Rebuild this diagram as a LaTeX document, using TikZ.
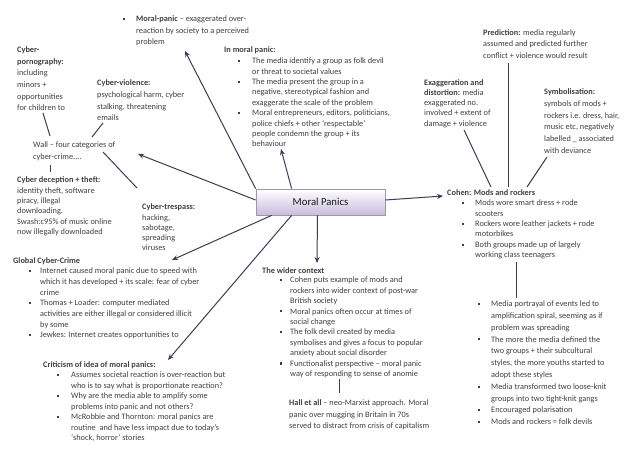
\documentclass[tikz,border=0pt]{standalone}
\usepackage{fontspec}
\setmainfont{Carlito}
\usetikzlibrary{arrows.meta,shadows}
\newlength\bulw
\definecolor{txtc}{HTML}{404040}
\definecolor{linec}{HTML}{3C3C58}
\definecolor{boxb}{HTML}{C6BDDC}
\definecolor{boxd}{HTML}{9A96AC}
\newcommand\bu{\makebox[\bulw][l]{\hspace{1pt}\rule[1.7pt]{2.1pt}{2.1pt}}}
\newcommand\txtblk[5]{\node[blk] (#1) at (#2,#3-0.7*#4) {\fontsize{8.3}{#4}\selectfont\begin{tabular}{@{}l@{}}#5\end{tabular}};}
\newcommand\bullist[6]{\node[blk] (#1) at (#2,#3-0.7*#4) {\fontsize{8.3}{#4}\selectfont\setlength\bulw{#5pt}\begin{tabular}{@{}l@{}l@{}}#6\end{tabular}};}
\begin{document}
\begin{tikzpicture}[x=1pt,y=-1pt,
  blk/.style={anchor=north west,inner sep=0pt,text=txtc},
  conn/.style={draw=linec,line width=1pt},
  arr/.style={conn,-{Stealth[length=6pt,width=5pt]}},
  mainbox/.style={draw=boxd,line width=0.8pt,top color=white,bottom color=boxb,
    minimum width=129pt,minimum height=26pt,inner sep=0pt,
    drop shadow={opacity=0.2,shadow xshift=1pt,shadow yshift=-1pt},
    font=\fontsize{10.7}{12}\selectfont,text=black!90}]
\fill[white] (0,0) rectangle (638,452);
\useasboundingbox (0,0) rectangle (638,452);

% central node
\node[mainbox] (mp) at (320.5,202) {Moral Panics};

% left / top blocks
\bullist{mpdef}{122}{21.5}{11.5}{14}{\bu&\textbf{Moral-panic} – exaggerated over-\\&reaction by society to a perceived\\&problem}
\txtblk{porn}{17}{52.5}{11.6}{\textbf{Cyber-}\\\textbf{pornography:}\\including\\minors +\\opportunities\\for children to}
\txtblk{viol}{97}{85.5}{11.7}{\textbf{Cyber-violence:}\\psychological harm, cyber\\stalking, threatening\\emails}
\txtblk{wall}{33}{147.5}{11.3}{Wall – four categories of\\cyber-crime....}
\txtblk{decep}{17}{182.5}{10.4}{\textbf{Cyber deception + theft:}\\identity theft, software\\piracy, illegal\\downloading.\\Swash:c95\% of music online\\now illegally downloaded}
\txtblk{tresp}{142}{209.5}{10.3}{\textbf{Cyber-trespass:}\\hacking,\\sabotage,\\spreading\\viruses}

% in moral panic
\txtblk{imph}{224}{52.5}{11}{\textbf{In moral panic:}}
\bullist{imp}{237}{63.5}{10.4}{15}{\bu&The media identify a group as folk devil\\&or threat to societal values\\\bu&The media present the group in a\\&negative, stereotypical fashion and\\&exaggerate the scale of the problem\\\bu&Moral entrepreneurs, editors, politicians,\\&police chiefs + other ‘respectable’\\&people condemn the group + its\\&behaviour}

% right blocks
\txtblk{pred}{483}{35.5}{11.3}{\textbf{Prediction:} media regularly\\assumed and predicted further\\conflict + violence would result}
\txtblk{exag}{424}{85}{10.2}{\textbf{Exaggeration and}\\\textbf{distortion:} media\\exaggerated no.\\involved + extent of\\damage + violence}
\txtblk{symb}{544}{94}{11.9}{\textbf{Symbolisation:}\\symbols of mods +\\rockers i.e. dress, hair,\\music etc, negatively\\labelled \_ associated\\with deviance}
\txtblk{cohh}{447}{195.5}{11}{\textbf{Cohen: Mods and rockers}}
\bullist{coh}{461}{205.5}{10.4}{14}{\bu&Mods wore smart dress + rode\\&scooters\\\bu&Rockers wore leather jackets + rode\\&motorbikes\\\bu&Both groups made up of largely\\&working class teenagers}
\bullist{ampl}{477}{306.5}{11.8}{14}{\bu&Media portrayal of events led to\\&amplification spiral, seeming as if\\&problem was spreading\\\bu&The more the media defined the\\&two groups + their subcultural\\&styles, the more youths started to\\&adopt these styles\\\bu&Media transformed two loose-knit\\&groups into two tight-knit gangs\\\bu&Encouraged polarisation\\\bu&Mods and rockers = folk devils}

% bottom middle
\txtblk{widh}{262}{273.5}{11}{\textbf{The wider context}}
\bullist{wid}{279}{282.5}{10.44}{11}{\bu&Cohen puts example of mods and\\&rockers into wider context of post-war\\&British society\\\bu&Moral panics often occur at times of\\&social change\\\bu&The folk devil created by media\\&symbolises and gives a focus to popular\\&anxiety about social disorder\\\bu&Functionalist perspective – moral panic\\&way of responding to sense of anomie}
\txtblk{hall}{289}{405.5}{11.5}{\textbf{Hall et all} – neo-Marxist approach. Moral\\panic over mugging in Britain in 70s\\served to distract from crisis of capitalism}

% bottom left
\txtblk{globh}{13}{263.5}{11}{\textbf{Global Cyber-Crime}}
\bullist{glob}{28}{273.5}{10.67}{12}{\bu&Internet caused moral panic due to speed with\\&which it has developed + its scale: fear of cyber\\&crime\\\bu&Thomas + Loader: computer mediated\\&activities are either illegal or considered illicit\\&by some\\\bu&Jewkes: Internet creates opportunities to}
\txtblk{crith}{43}{367.5}{11}{\textbf{Criticism of idea of moral panics:}}
\bullist{crit}{56}{377.5}{10.5}{15}{\bu&Assumes societal reaction is over-reaction but\\&who is to say what is proportionate reaction?\\\bu&Why are the media able to amplify some\\&problems into panic and not others?\\\bu&McRobbie and Thornton: moral panics are\\&routine\ \ and have less impact due to today’s\\&‘shock, horror’ stories}

% connector end points
\coordinate (tMP) at (185,51);
\coordinate (tIMP) at (281,149);
\coordinate (tWall) at (138,154);
\coordinate (tCoh) at (443,196);
\coordinate (tWid) at (317,263);
\coordinate (tGlob) at (172,260);
\coordinate (tCrit) at (168,360);
\coordinate (pornE) at (43,113);
\coordinate (wallA) at (50,136);
\coordinate (violE) at (103,123);
\coordinate (wallB) at (92,137);
\coordinate (wallC) at (103,152);
\coordinate (trespE) at (137,188);
\coordinate (wallD) at (50,165);
\coordinate (decepE) at (50,172);
\coordinate (predE) at (508,63);
\coordinate (cohA) at (508,187);
\coordinate (exagE) at (464,130);
\coordinate (cohB) at (491,187);
\coordinate (symbE) at (547,157);
\coordinate (cohC) at (527,187);
\coordinate (cohD) at (516,262);
\coordinate (amplE) at (516,298);
\coordinate (widE) at (339,379);
\coordinate (hallE) at (339,393);

% arrows from the central node
\draw[arr] (mp.north west) -- (tMP);
\draw[arr] ([xshift=36pt]mp.north west) -- (tIMP);
\draw[arr] ([yshift=2pt]mp.west) -- (tWall);
\draw[arr] ([yshift=2pt]mp.east) -- (tCoh);
\draw[arr] ([xshift=-3pt]mp.south) -- (tWid);
\draw[arr] ([xshift=16pt]mp.south west) -- (tGlob);
\draw[arr] ([xshift=36pt]mp.south west) -- (tCrit);

% plain links
\draw[conn] (pornE) -- (wallA);
\draw[conn] (violE) -- (wallB);
\draw[conn] (wallC) -- (trespE);
\draw[conn] (wallD) -- (decepE);
\draw[conn] (predE) -- (cohA);
\draw[conn] (exagE) -- (cohB);
\draw[conn] (symbE) -- (cohC);
\draw[conn] (cohD) -- (amplE);
\draw[conn] (widE) -- (hallE);
\end{tikzpicture}
\end{document}
